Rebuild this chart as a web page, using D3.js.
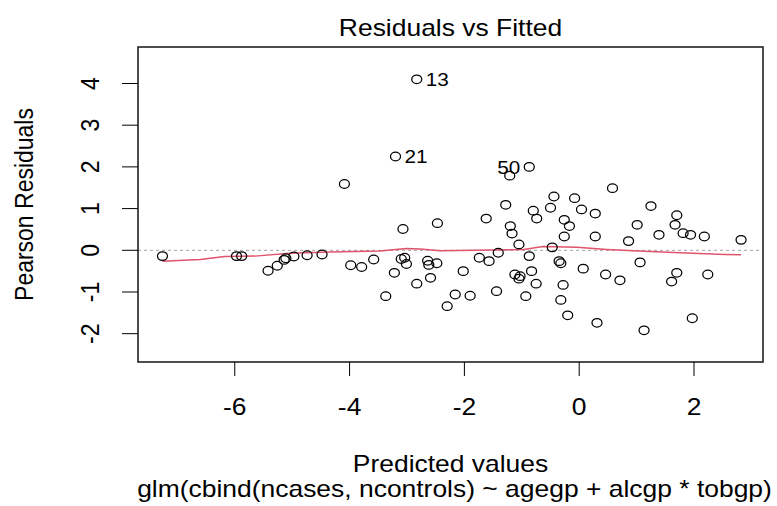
<!DOCTYPE html>
<html>
<head>
<meta charset="utf-8">
<script src="https://cdn.jsdelivr.net/npm/d3@7"></script>
<style>
  body { margin: 0; background: #fff; }
  text { font-family: "Liberation Sans", Arial, sans-serif; fill: #000; }
</style>
</head>
<body>
<div id="chart"></div>
<script>
// fitted values (linear predictor) and pearson residuals
var fittedVals = [-7.26, -5.97, -5.88, -5.42, -5.26, -5.14, -5.11, -4.97, -4.74, -4.48,
  -4.09, -3.98, -3.79, -3.58, -3.37, -3.22, -3.20, -3.07, -3.10, -3.04,
  -3.01, -2.83, -2.83, -2.64, -2.62, -2.59, -2.48, -2.47, -2.30, -2.16,
  -2.02, -1.90, -1.74, -1.62, -1.57, -1.44, -1.41, -1.28, -1.21, -1.20,
  -1.17, -1.12, -1.05, -1.05, -1.03, -0.93, -0.87, -0.87, -0.83, -0.80,
  -0.75, -0.74, -0.50, -0.47, -0.44, -0.35, -0.32, -0.32, -0.28, -0.26,
  -0.26, -0.20, -0.17, -0.08, 0.04, 0.07, 0.28, 0.28, 0.31, 0.46,
  0.58, 0.71, 0.86, 1.01, 1.06, 1.13, 1.25, 1.39, 1.61, 1.67,
  1.70, 1.70, 1.81, 1.94, 1.97, 2.18, 2.24, 2.82];
var pearsonRes = [-0.14, -0.14, -0.14, -0.49, -0.37, -0.23, -0.19, -0.15, -0.12, -0.10,
  1.59, -0.36, -0.40, -0.22, -1.10, -0.54, 2.25, 0.51, -0.21, -0.18,
  -0.33, 4.10, -0.80, -0.25, -0.35, -0.66, -0.31, 0.65, -1.34, -1.06,
  -0.50, -1.09, -0.18, 0.76, -0.26, -0.98, -0.06, 1.09, 1.79, 0.58,
  0.40, -0.58, 0.14, -0.68, -0.62, -1.10, -0.14, 2.00, -0.50, 0.95,
  -0.80, 0.76, 1.02, 0.07, 1.29, -0.26, -0.31, -1.19, -0.83, 0.73,
  0.33, -1.56, 0.58, 1.25, 0.98, -0.44, 0.88, 0.33, -1.74, -0.58,
  1.49, -0.72, 0.22, 0.61, -0.29, -1.92, 1.06, 0.37, -0.75, 0.61,
  0.84, -0.54, 0.41, 0.37, -1.63, 0.33, -0.58, 0.25];

// the three points R labels (index into arrays above) and their ids
var labelIdx = [21, 16, 47];
var labelText = ["13", "21", "50"];

// lowess smooth (red line)
var smoothX = [-7.26, -6.6, -6.18, -5.65, -5.04, -4.34, -3.47, -3.01, -2.77, -2.42,
  -0.97, -0.63, -0.04, 0.48, 1.03, 1.76, 2.54, 2.82];
var smoothY = [-0.26, -0.22, -0.15, -0.14, -0.07, -0.04, -0.02, 0.04, 0.03, -0.01,
  0.02, 0.09, 0.07, 0.02, -0.02, -0.06, -0.10, -0.11];

var xTicks = [-6, -4, -2, 0, 2];
var yTicks = [-2, -1, 0, 1, 2, 3, 4];

var svgWidth = 777;
var svgHeight = 506;
var sx = 1.15; // the picture is a bit stretched sideways

var margin = { top: 47, right: 14, bottom: 144, left: 138 };
var width = svgWidth - margin.left - margin.right;
var height = svgHeight - margin.top - margin.bottom;

var svg = d3.select("#chart")
  .append("svg")
  .attr("width", svgWidth)
  .attr("height", svgHeight);

var chartGroup = svg.append("g")
  .attr("transform", `translate(${margin.left}, ${margin.top})`);

// scales (R pads the range by 4%, y is padded more for the labels)
var xScale = d3.scaleLinear().domain([-7.686, 3.202]).range([0, width]);
var yScale = d3.scaleLinear().domain([-2.679, 4.875]).range([height, 0]);

// helper: text drawn with the sideways stretch
function addText(parent, x, y, str, size, anchor, rot) {
  return parent.append("text")
    .attr("transform", `translate(${x},${y}) scale(${sx},1)` + (rot ? ` rotate(${rot})` : ""))
    .attr("text-anchor", anchor)
    .style("font-size", size + "px")
    .text(str);
}

// zero reference line
chartGroup.append("line")
  .attr("x1", 0).attr("x2", width)
  .attr("y1", yScale(0)).attr("y2", yScale(0))
  .attr("stroke", "#b3b3b3")
  .attr("stroke-width", 1.2)
  .attr("stroke-dasharray", "3,3");

// smooth line
var line = d3.line()
  .x((d, i) => xScale(smoothX[i]))
  .y((d, i) => yScale(smoothY[i]));

chartGroup.append("path")
  .datum(smoothX)
  .attr("d", line)
  .attr("fill", "none")
  .attr("stroke", "#DF536B")
  .attr("stroke-width", 1.5);

// points
chartGroup.selectAll("ellipse")
  .data(fittedVals)
  .enter()
  .append("ellipse")
  .attr("cx", (d, i) => xScale(d))
  .attr("cy", (d, i) => yScale(pearsonRes[i]))
  .attr("rx", 5)
  .attr("ry", 4.3)
  .attr("fill", "none")
  .attr("stroke", "#000")
  .attr("stroke-width", 1.25);

// point ids: right of the point on the left half, left of it on the right half
var xMid = (d3.min(fittedVals) + d3.max(fittedVals)) / 2;
labelIdx.forEach(function(idx, k) {
  var px = xScale(fittedVals[idx]);
  var py = yScale(pearsonRes[idx]) + 7;
  var right = fittedVals[idx] < xMid;
  addText(chartGroup, right ? px + 9 : px - 9, py, labelText[k], 18, right ? "start" : "end");
});

// box
chartGroup.append("rect")
  .attr("width", width)
  .attr("height", height)
  .attr("fill", "none")
  .attr("stroke", "#222")
  .attr("stroke-width", 1.6);

// x axis ticks + labels
xTicks.forEach(function(t) {
  chartGroup.append("line")
    .attr("x1", xScale(t)).attr("x2", xScale(t))
    .attr("y1", height).attr("y2", height + 14)
    .attr("stroke", "#000");
  addText(chartGroup, xScale(t), height + 53, String(t), 23, "middle");
});

// y axis ticks + labels (rotated, as R does by default)
yTicks.forEach(function(t) {
  chartGroup.append("line")
    .attr("x1", -16).attr("x2", 0)
    .attr("y1", yScale(t)).attr("y2", yScale(t))
    .attr("stroke", "#000");
  addText(chartGroup, -39, yScale(t), String(t), 23, "middle", -90);
});

// titles
addText(svg, margin.left + width / 2, 36, "Residuals vs Fitted", 23, "middle");
addText(svg, margin.left + width / 2, 472, "Predicted values", 23, "middle");
addText(svg, margin.left + width / 2 + 4, 497, "glm(cbind(ncases, ncontrols) ~ agegp + alcgp * tobgp)", 23, "middle");
addText(svg, 33, margin.top + height / 2, "Pearson Residuals", 23, "middle", -90);
</script>
</body>
</html>
